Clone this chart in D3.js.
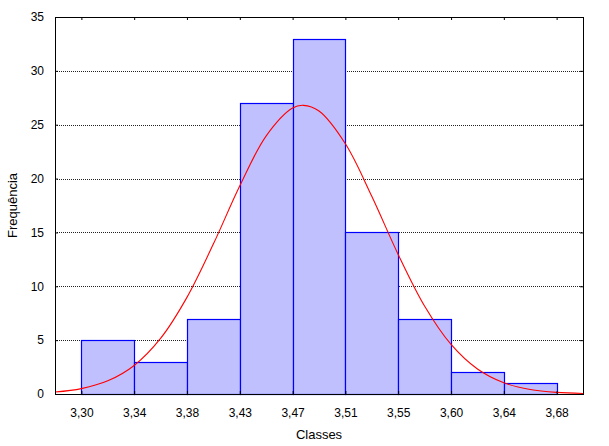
<!DOCTYPE html>
<html>
<head>
<meta charset="utf-8">
<script src="https://cdn.jsdelivr.net/npm/d3@7"></script>
<style>
    body { margin: 0; background: #fff; }
    text { font-family: "Liberation Sans", Arial, sans-serif; }
</style>
</head>
<body>
<div id="chart"></div>
<script>
// bin edges (Classes) and their labels
const edges = [3.30, 3.3422, 3.3844, 3.4267, 3.4689, 3.5111, 3.5533, 3.5956, 3.6378, 3.68];
const edgeLabels = ["3,30", "3,34", "3,38", "3,43", "3,47", "3,51", "3,55", "3,60", "3,64", "3,68"];
// frequency of each bin
const counts = [5, 3, 7, 27, 33, 15, 7, 2, 1];
const yTicks = [0, 5, 10, 15, 20, 25, 30, 35];

// fitted normal curve
const curveX = [3.2789, 3.30, 3.3211, 3.3422, 3.3633, 3.3844, 3.4056, 3.4267, 3.4478, 3.4689,
    3.4775, 3.4900, 3.5111, 3.5322, 3.5533, 3.5744, 3.5956, 3.6167, 3.6378, 3.6589, 3.68, 3.7011];
const curveY = [0.18, 0.50, 1.22, 2.65, 5.16, 8.97, 13.94, 19.33, 23.97, 26.55,
    26.8, 26.27, 23.23, 18.36, 12.96, 8.17, 4.60, 2.32, 1.04, 0.42, 0.15, 0.05];

let margin = { top: 17, right: 26, bottom: 52, left: 55 };
let width = 609 - margin.left - margin.right;
let height = 446 - margin.top - margin.bottom;
let bw = edges[1] - edges[0];

let svg = d3.select("#chart").append("svg")
    .attr("width", 609)
    .attr("height", 446);
let g = svg.append("g")
    .attr("transform", "translate(" + margin.left + "," + margin.top + ")");

let x = d3.scaleLinear()
    .domain([edges[0] - bw / 2, edges[edges.length - 1] + bw / 2])
    .range([0, width]);
let y = d3.scaleLinear()
    .domain([0, 35])
    .range([height, 0]);

g.append("clipPath").attr("id", "clip")
    .append("rect").attr("width", width).attr("height", height);

// grid lines
g.selectAll(".grid")
    .data(yTicks.filter(d => d > 0 && d < 35))
    .enter().append("line")
    .attr("class", "grid")
    .attr("x1", 0).attr("x2", width)
    .attr("y1", d => Math.round(y(d)) + 0.5)
    .attr("y2", d => Math.round(y(d)) + 0.5)
    .attr("stroke", "#222")
    .attr("stroke-dasharray", "1,1");

// bars
g.selectAll(".bar")
    .data(counts)
    .enter().append("rect")
    .attr("class", "bar")
    .attr("x", (d, i) => Math.round(x(edges[i])) + 0.5)
    .attr("width", (d, i) => Math.round(x(edges[i + 1])) - Math.round(x(edges[i])))
    .attr("y", d => Math.round(y(d)) + 0.5)
    .attr("height", d => Math.round(y(0)) - Math.round(y(d)))
    .attr("fill", "#c0c0ff")
    .attr("stroke", "#0000ff")
    .attr("stroke-width", 1.2);

// normal curve
let line = d3.line()
    .x(d => x(d[0]))
    .y(d => y(d[1]))
    .curve(d3.curveCatmullRom);
g.append("path")
    .datum(curveX.map((v, i) => [v, curveY[i]]))
    .attr("clip-path", "url(#clip)")
    .attr("d", line)
    .attr("fill", "none")
    .attr("stroke", "#ff0000")
    .attr("stroke-width", 1.1);

// frame
g.append("rect")
    .attr("x", 0.5).attr("y", 0.5)
    .attr("width", width).attr("height", height)
    .attr("fill", "none")
    .attr("stroke", "#000");

// axes (ticks inside)
let xAxis = d3.axisBottom(x)
    .tickValues(edges)
    .tickFormat((d, i) => edgeLabels[i])
    .tickSizeInner(-3).tickSizeOuter(0).tickPadding(14);
let gx = g.append("g")
    .attr("transform", "translate(0," + height + ")")
    .call(xAxis);
gx.select(".domain").remove();

let topAxis = d3.axisTop(x).tickValues(edges).tickSizeInner(-3).tickSizeOuter(0).tickFormat("");
g.append("g").call(topAxis).select(".domain").remove();

let yAxis = d3.axisLeft(y)
    .tickValues(yTicks)
    .tickSizeInner(-3).tickSizeOuter(0).tickPadding(11);
let gy = g.append("g").call(yAxis);
gy.select(".domain").remove();

let rightAxis = d3.axisRight(y).tickValues(yTicks).tickSizeInner(-3).tickSizeOuter(0).tickFormat("");
g.append("g").attr("transform", "translate(" + width + ",0)").call(rightAxis).select(".domain").remove();

svg.selectAll(".tick text")
    .style("font-family", "Liberation Sans, Arial, sans-serif")
    .style("font-size", "12px")
    .attr("fill", "#000");
svg.selectAll(".tick line").attr("stroke", "#000");

// axis titles
svg.append("text")
    .attr("x", margin.left + width / 2)
    .attr("y", 439)
    .attr("text-anchor", "middle")
    .style("font-size", "13px")
    .text("Classes");

svg.append("text")
    .attr("transform", "translate(17," + (margin.top + height / 2) + ") rotate(-90)")
    .attr("text-anchor", "middle")
    .style("font-size", "13px")
    .text("Frequência");
</script>
</body>
</html>
